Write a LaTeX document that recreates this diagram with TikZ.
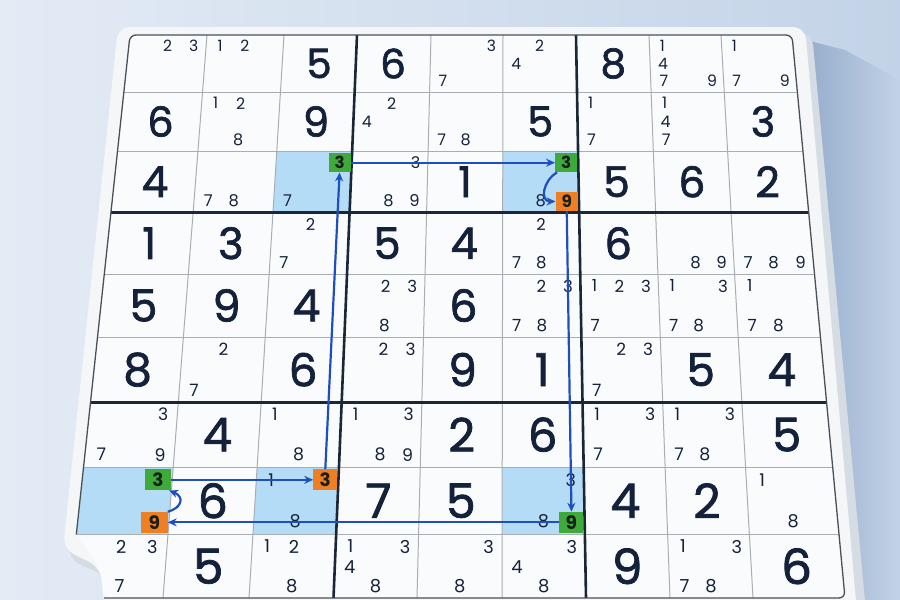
\documentclass[tikz,border=0pt]{standalone}
\usepackage{fontspec}
\newfontfamily\digf{Poppins}
\newfontfamily\bigf{Poppins}[FakeBold=1.6]
\usetikzlibrary{arrows.meta}
\definecolor{bgL}{HTML}{E3EBF5}
\definecolor{bgR}{HTML}{C3D3E7}
\definecolor{shadowc}{HTML}{93ABCA}
\definecolor{boardc}{HTML}{F5F6F8}
\definecolor{sidec}{HTML}{D6DCE4}
\definecolor{cellc}{HTML}{FAFBFC}
\definecolor{thinc}{HTML}{A9AEB5}
\definecolor{thickc}{HTML}{1B2638}
\definecolor{borderc}{HTML}{4A505A}
\definecolor{navy}{HTML}{14213A}
\definecolor{hlc}{HTML}{B5DCF7}
\definecolor{gboxc}{HTML}{3DAA3A}
\definecolor{oboxc}{HTML}{EE7F22}
\definecolor{arrc}{HTML}{1E4FBE}
\definecolor{boxtxt}{HTML}{1A1F1A}

\def\Tl{{130,207,284,357,431,503,576,649,721,792}}
\def\Bl{{70,163,249,333.5,417,502,586,670,753,845}}
\def\Yl{{35,92,151,212.5,274,337,402.3,467,534.5,598}}

% point inside cell r c at fractions fx fy
\newcommand\cellpt[4]{%
 \pgfmathsetmacro\ya{\Yl[#1-1]}%
 \pgfmathsetmacro\yb{\Yl[#1]}%
 \pgfmathsetmacro\yy{\ya+(#4)*(\yb-\ya)}%
 \pgfmathsetmacro\tq{(\yy-35)/563}%
 \pgfmathsetmacro\xa{\Tl[#2-1]+(\Bl[#2-1]-\Tl[#2-1])*\tq}%
 \pgfmathsetmacro\xb{\Tl[#2]+(\Bl[#2]-\Tl[#2])*\tq}%
 \pgfmathsetmacro\xx{\xa+(#3)*(\xb-\xa)}%
 \pgfmathsetmacro\cw{\xb-\xa}%
 \pgfmathsetmacro\ch{\yb-\ya}%
}
\newcommand\BD[3]{\cellpt{#1}{#2}{0.5}{0.5}\pgfmathsetmacro\fs{40+9*\tq}%
 \node[bigd,font=\bigf\fontsize{\fs}{\fs}\selectfont] (b#1#2) at (\xx,\yy) {#3};}
\newcommand\PMat[5]{\cellpt{#1}{#2}{#3}{#4}\pgfmathsetmacro\fs{15.5+2.5*\tq}%
 \node[pm,font=\digf\fontsize{\fs}{\fs}\selectfont] (p#1#2#5) at (\xx,\yy) {#5};}
\newcommand\PMs[3]{\foreach \d in {#3}{%
 \pgfmathsetmacro\fxv{{0.18,0.5,0.84}[int(mod(\d-1,3))]}%
 \pgfmathsetmacro\fyv{{0.19,0.51,0.81}[int((\d-1)/3)]}%
 \PMat{#1}{#2}{\fxv}{\fyv}{\d}}}
\newcommand\HL[2]{\cellpt{#1}{#2}{0}{0}\let\xA\xa\let\xB\xb\let\yA\ya
 \cellpt{#1}{#2}{0}{1}\fill[hl] (\xA,\yA)--(\xB,\yA)--(\xb,\yb)--(\xa,\yb)--cycle;}
\newcommand\HB[5]{%
 \pgfmathsetmacro\fxv{{0.18,0.5,0.84}[int(mod(#3-1,3))]}%
 \pgfmathsetmacro\fyv{{0.19,0.51,0.82}[int((#3-1)/3)]}%
 \cellpt{#1}{#2}{\fxv}{\fyv}%
 \pgfmathsetmacro\bw{0.29*\cw}\pgfmathsetmacro\bh{0.31*\ch}\pgfmathsetmacro\fs{16+3*\tq}%
 \node[hbox,fill=#4,minimum width=\bw pt,minimum height=\bh pt,font=\digf\bfseries\fontsize{\fs}{\fs}\selectfont] (#5) at (\xx,\yy) {#3};}

\begin{document}
\begin{tikzpicture}[x=1pt,y=-1pt,
 bigd/.style={inner sep=0pt,text=navy},
 pm/.style={inner sep=0pt,text=navy},
 hbox/.style={inner sep=0pt,text=boxtxt},
 hl/.style={fill=hlc},
 thinline/.style={draw=thinc,line width=1pt},
 thickline/.style={draw=thickc,line width=2.6pt},
 gridborder/.style={draw=borderc,line width=1.3pt,rounded corners=6pt},
 arr/.style={draw=arrc,line width=2.2pt,-{Stealth[length=9pt,width=8pt]}}]
\useasboundingbox (0,0) rectangle (900,600);
% background
\shade[left color=bgL,right color=bgR] (0,0) rectangle (900,600);
\shade[left color=shadowc,right color=bgR,opacity=0.95] (806,40) -- (845,50) -- (900,80) -- (900,600) -- (860,600) -- cycle;
% board side and face
\fill[sidec,rounded corners=12pt] (125,35) -- (812,33) -- (866,612) -- (111,612) -- (106,576) -- (68,559) -- cycle;
\fill[boardc,rounded corners=12pt] (118,27) -- (805,27) -- (857,612) -- (105,612) -- (100,567) -- (63,549) -- cycle;
% grid cells
\fill[cellc,rounded corners=6pt] (130,35) -- (792,35) -- (845,598) -- (104,598) -- (101,570) -- (84,545) -- (76.3,534.5) -- cycle;
% highlights
\HL{3}{3}\HL{3}{6}\HL{8}{1}\HL{8}{3}\HL{8}{6}
% thin lines
\foreach \i in {1,2,4,5,7,8}{\pgfmathsetmacro\p{\Tl[\i]}\pgfmathsetmacro\q{\Bl[\i]}\draw[thinline] (\p,35) -- (\q,598);}
\foreach \j in {1,2,4,5,7,8}{\pgfmathsetmacro\yv{\Yl[\j]}%
 \pgfmathsetmacro\fr{(\yv-35)/563}%
 \pgfmathsetmacro\xl{\Tl[0]+(\Bl[0]-\Tl[0])*\fr}%
 \pgfmathsetmacro\xr{\Tl[9]+(\Bl[9]-\Tl[9])*\fr}%
 \draw[thinline] (\xl,\yv) -- (\xr,\yv);}
% thick lines
\foreach \i in {3,6}{\pgfmathsetmacro\p{\Tl[\i]}\pgfmathsetmacro\q{\Bl[\i]}\draw[thickline] (\p,35) -- (\q,598);}
\foreach \j in {3,6}{\pgfmathsetmacro\yv{\Yl[\j]}%
 \pgfmathsetmacro\fr{(\yv-35)/563}%
 \pgfmathsetmacro\xl{\Tl[0]+(\Bl[0]-\Tl[0])*\fr}%
 \pgfmathsetmacro\xr{\Tl[9]+(\Bl[9]-\Tl[9])*\fr}%
 \draw[thickline] (\xl,\yv) -- (\xr,\yv);}
% border
\draw[gridborder] (76.3,534.5) -- (130,35) -- (792,35) -- (845,598) -- (104,598);
% row 1
\PMs{1}{1}{2,3}\PMs{1}{2}{1,2}\BD{1}{3}{5}\BD{1}{4}{6}\PMs{1}{5}{3,7}\PMs{1}{6}{2,4}
\BD{1}{7}{8}\PMs{1}{8}{1,4,7,9}\PMs{1}{9}{1,7,9}
% row 2
\BD{2}{1}{6}\PMs{2}{2}{1,2,8}\BD{2}{3}{9}\PMs{2}{4}{2,4}\PMs{2}{5}{7,8}\BD{2}{6}{5}
\PMs{2}{7}{1,7}\PMs{2}{8}{1,4,7}\BD{2}{9}{3}
% row 3
\BD{3}{1}{4}\PMs{3}{2}{7,8}\PMs{3}{3}{7}\PMs{3}{4}{3,8,9}\BD{3}{5}{1}\PMs{3}{6}{8}
\BD{3}{7}{5}\BD{3}{8}{6}\BD{3}{9}{2}
% row 4
\BD{4}{1}{1}\BD{4}{2}{3}\PMs{4}{3}{2,7}\BD{4}{4}{5}\BD{4}{5}{4}\PMs{4}{6}{2,7,8}
\BD{4}{7}{6}\PMs{4}{8}{8,9}\PMs{4}{9}{7,8,9}
% row 5
\BD{5}{1}{5}\BD{5}{2}{9}\BD{5}{3}{4}\PMs{5}{4}{2,3,8}\BD{5}{5}{6}\PMs{5}{6}{2,3,7,8}
\PMs{5}{7}{1,2,3,7}\PMs{5}{8}{1,3,7,8}\PMs{5}{9}{1,7,8}
% row 6
\BD{6}{1}{8}\PMs{6}{2}{2,7}\BD{6}{3}{6}\PMs{6}{4}{2,3}\BD{6}{5}{9}\BD{6}{6}{1}
\PMs{6}{7}{2,3,7}\BD{6}{8}{5}\BD{6}{9}{4}
% row 7
\PMs{7}{1}{3,7,9}\BD{7}{2}{4}\PMs{7}{3}{1,8}\PMs{7}{4}{1,3,8,9}\BD{7}{5}{2}\BD{7}{6}{6}
\PMs{7}{7}{1,3,7}\PMs{7}{8}{1,3,7,8}\BD{7}{9}{5}
% row 8
\BD{8}{2}{6}\PMs{8}{3}{1,8}\BD{8}{4}{7}\BD{8}{5}{5}\PMs{8}{6}{3,8}
\BD{8}{7}{4}\BD{8}{8}{2}\PMs{8}{9}{1,8}
% row 9
\PMs{9}{1}{2,3}\PMat{9}{1}{0.52}{0.81}{7}\BD{9}{2}{5}\PMs{9}{3}{1,2,8}\PMs{9}{4}{1,3,4,8}
\PMs{9}{5}{3,8}\PMs{9}{6}{3,4,8}\BD{9}{7}{9}\PMs{9}{8}{1,3,7,8}\BD{9}{9}{6}
% coloured candidate boxes
\HB{3}{3}{3}{gboxc}{g33}
\HB{3}{6}{3}{gboxc}{g36}
\HB{3}{6}{9}{oboxc}{o36}
\HB{8}{1}{3}{gboxc}{g81}
\HB{8}{1}{9}{oboxc}{o81}
\HB{8}{3}{3}{oboxc}{o83}
\HB{8}{6}{9}{gboxc}{g86}
% chain arrows
\draw[arr] (o83.north) -- (g33.south);
\draw[arr] (g33.east) -- (g36.west);
\draw[arr] ([xshift=2pt]g36.south west) .. controls +(-14,8) and +(-16,0) .. (o36.west);
\draw[arr] (o36.south) -- (g86.north);
\draw[arr] (g86.west) -- (o81.east);
\draw[arr] (o81.north east) .. controls +(15,-4) and +(15,6) .. ([xshift=-2pt]g81.south east);
\draw[arr] (g81.east) -- (o83.west);
\end{tikzpicture}
\end{document}
